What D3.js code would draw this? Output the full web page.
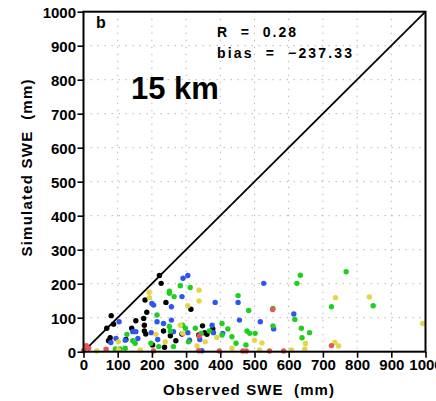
<!DOCTYPE html>
<html><head><meta charset="utf-8">
<script src="https://cdn.jsdelivr.net/npm/d3@7"></script>
<style>
html,body{margin:0;padding:0;background:#fff;overflow:hidden}
svg{display:block}
text{font-family:"Liberation Sans",Arial,sans-serif}
</style></head>
<body>
<svg id="c" width="436" height="401"></svg>
<script>
const xTicks = [0,100,200,300,400,500,600,700,800,900,1000];
const yTicks = [0,100,200,300,400,500,600,700,800,900,1000];
const seriesNames = ["black","blue","green","yellow","red"];
const seriesColors = ["#000000","#2f55ee","#1ecf1e","#e4d548","#ee5252"];

const blackPts = [[81,106],[88,81],[68,69],[78,41],[73,32],[153,91],[141,69],[124,36],[180,152],[185,116],[176,98],[178,78],[178,61],[182,52],[202,20],[222,224],[227,201],[241,145],[234,61],[237,13],[254,47],[270,32],[314,125],[288,52],[348,76],[337,49],[361,51],[378,67],[354,56]];
const bluePts = [[104,88],[80,27],[95,39],[122,34],[144,59],[153,59],[159,39],[200,142],[205,137],[198,56],[215,88],[234,83],[217,36],[257,132],[257,93],[263,59],[291,216],[305,224],[288,162],[305,56],[310,34],[340,36],[346,3],[380,56],[376,78],[385,145],[407,54],[452,145],[456,93],[517,88],[527,201],[556,67],[615,111]];
const greenPts = [[93,8],[107,8],[122,10],[127,51],[144,32],[151,25],[215,108],[197,25],[220,15],[251,178],[251,172],[263,15],[251,74],[254,61],[265,162],[283,194],[298,69],[290,78],[312,189],[307,29],[327,69],[344,54],[368,61],[405,83],[405,49],[422,67],[434,44],[446,25],[452,165],[483,121],[478,61],[486,54],[502,54],[475,20],[554,76],[554,127],[618,95],[624,201],[634,225],[637,69],[639,41],[661,56],[725,132],[768,235],[847,135]];
const yellowPts = [[192,175],[193,159],[102,29],[102,5],[39,2],[212,51],[239,29],[283,78],[290,54],[305,135],[338,181],[338,149],[332,17],[356,29],[390,42],[434,10],[500,34],[522,26],[515,5],[608,5],[649,24],[647,8],[735,27],[746,17],[737,159],[836,161],[992,83],[166,5]];
const redPts = [[8,18],[15,10],[0,3],[66,7],[205,2],[337,3],[338,46],[397,2],[466,2],[476,2],[544,2],[553,124],[585,2],[725,18]];
const allSeries = [blackPts,bluePts,greenPts,yellowPts,redPts];

const statR = "R  =  0.28";
const statBias = "bias  =  \u2212237.33";
const panelLabel = "b";
const resLabel = "15 km";
const xTitle = "Observed SWE  (mm)";
const yTitle = "Simulated SWE  (mm)";

const svg = d3.select("#c");
const L = 83.5, R = 425.5, T = 11.7, B = 351.7;
const x = d3.scaleLinear().domain([0,1000]).range([L,R]);
const y = d3.scaleLinear().domain([0,1000]).range([B,T]);

// grid
const g = svg.append("g");
g.selectAll(".gx").data(xTicks.slice(1,-1)).enter().append("line")
 .attr("x1",d=>x(d)).attr("x2",d=>x(d)).attr("y1",T).attr("y2",B)
 .attr("stroke","#b8b8b8").attr("stroke-width",1).attr("stroke-dasharray","1.5,5.5");
g.selectAll(".gy").data(yTicks.slice(1,-1)).enter().append("line")
 .attr("y1",d=>y(d)).attr("y2",d=>y(d)).attr("x1",L).attr("x2",R)
 .attr("stroke","#b8b8b8").attr("stroke-width",1).attr("stroke-dasharray","1.5,5.5");

// 1:1 line
svg.append("line").attr("x1",x(0)).attr("y1",y(0)).attr("x2",x(1000)).attr("y2",y(1000))
 .attr("stroke","#000").attr("stroke-width",1.8);

// points
allSeries.forEach((pts,i)=>{
  svg.append("g").selectAll("circle").data(pts).enter().append("circle")
   .attr("cx",d=>x(d[0])).attr("cy",d=>y(d[1])).attr("r",2.7)
   .attr("fill",seriesColors[i]);
});

// axes
const xa = svg.append("g").attr("transform",`translate(0,${B})`)
 .call(d3.axisBottom(x).tickValues(xTicks).tickSize(6).tickPadding(2).tickFormat(d3.format("d")));
const ya = svg.append("g").attr("transform",`translate(${L},0)`)
 .call(d3.axisLeft(y).tickValues(yTicks).tickSize(6).tickPadding(1.5).tickFormat(d3.format("d")));
[xa,ya].forEach(a=>{
  a.select(".domain").remove();
  a.selectAll(".tick line").attr("stroke","#000").attr("stroke-width",1.6);
  a.selectAll("text").attr("fill","#000").style("font-size","15px").style("font-weight","bold")
   .style("font-family","'Liberation Sans',Arial,sans-serif");
});
ya.selectAll("text").attr("dy","0.36em");
xa.selectAll("text").attr("dy","0.72em");

// frame
svg.append("rect").attr("x",L).attr("y",T).attr("width",R-L).attr("height",B-T)
 .attr("fill","none").attr("stroke","#000").attr("stroke-width",2);

// texts
svg.append("text").attr("x",96).attr("y",28).text(panelLabel)
 .style("font-size","16px").style("font-weight","bold");
svg.append("text").attr("x",217).attr("y",37).text(statR)
 .style("font-size","14px").style("font-weight","bold").attr("xml:space","preserve")
 .attr("textLength",79).attr("lengthAdjust","spacing");
svg.append("text").attr("x",217).attr("y",58).text(statBias)
 .style("font-size","14px").style("font-weight","bold").attr("xml:space","preserve")
 .attr("textLength",135).attr("lengthAdjust","spacing");
svg.append("text").attr("x",131).attr("y",99).text(resLabel)
 .style("font-size","31px").style("font-weight","bold");
svg.append("text").attr("x",248.5).attr("y",395).attr("text-anchor","middle").text(xTitle)
 .style("font-size","15px").style("font-weight","bold").attr("xml:space","preserve")
 .attr("textLength",171).attr("lengthAdjust","spacing");
svg.append("text").attr("transform","translate(32,168) rotate(-90)").attr("text-anchor","middle").text(yTitle)
 .style("font-size","15px").style("font-weight","bold").attr("xml:space","preserve")
 .attr("textLength",177).attr("lengthAdjust","spacing");
</script>
</body></html>
